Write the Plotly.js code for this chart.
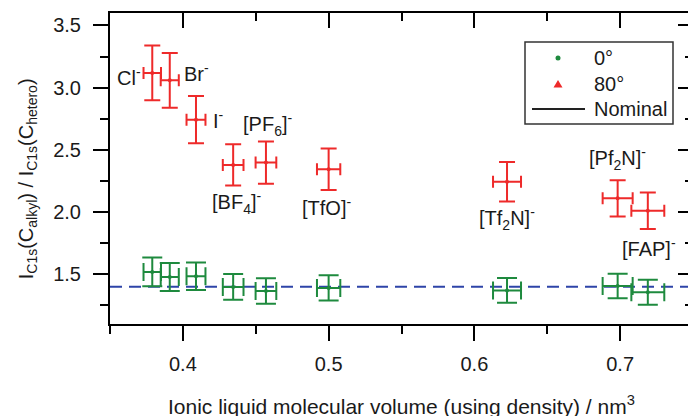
<!DOCTYPE html>
<html>
<head>
<meta charset="utf-8">
<script src="https://cdn.plot.ly/plotly-3.0.1.min.js"></script>
<style>
html, body { margin: 0; padding: 0; overflow: hidden; background: #fff; }
#chart { width: 700px; height: 416px; }
</style>
</head>
<body>
<div id="chart"></div>
<script>
// ---- data ----
const anions = ["Cl<sup>-</sup>", "Br<sup>-</sup>", "I<sup>-</sup>", "[BF<sub>4</sub>]<sup>-</sup>", "[PF<sub>6</sub>]<sup>-</sup>",
                "[TfO]<sup>-</sup>", "[Tf<sub>2</sub>N]<sup>-</sup>", "[Pf<sub>2</sub>N]<sup>-</sup>", "[FAP]<sup>-</sup>"];
const volume = [0.379, 0.391, 0.409, 0.4345, 0.457, 0.500, 0.6224, 0.6983, 0.719];
const volumeErr = [0.0060, 0.0062, 0.0065, 0.0071, 0.0071, 0.0080, 0.0096, 0.0103, 0.0113];
const ratio80 = [3.118, 3.059, 2.742, 2.379, 2.398, 2.344, 2.244, 2.110, 2.010];
const ratio80Err = [0.22, 0.22, 0.19, 0.165, 0.17, 0.167, 0.159, 0.145, 0.147];
const ratio0 = [1.519, 1.478, 1.484, 1.398, 1.365, 1.390, 1.370, 1.405, 1.355];
const ratio0Err = [0.115, 0.113, 0.111, 0.103, 0.103, 0.102, 0.100, 0.098, 0.100];
const nominalX = [0.35, 0.75];
const nominalValue = 1.4;
const legendNames = ["0°", "80°", "Nominal"];

// ---- styles ----
const RED = "#ee2a2a", GREEN = "#1e8a3e", BLUE = "#2e44a8", TXT = "#1a1a1a";
const FONT = "Liberation Sans, Arial, sans-serif";

// label placement (pixel offsets relative to the 80° point)
const labelPlace = [
  {xanchor: "right", xshift: -9, yshift: -4},
  {xanchor: "left", xshift: 12, yshift: 8},
  {xanchor: "left", xshift: 15, yshift: 0},
  {xanchor: "center", xshift: 3, yshift: -38},
  {xanchor: "center", xshift: 2, yshift: 38},
  {xanchor: "center", xshift: -2, yshift: -37},
  {xanchor: "center", xshift: 0, yshift: -37},
  {xanchor: "center", xshift: 0, yshift: 40},
  {xanchor: "center", xshift: 1, yshift: -37}
];

const traces = [
  {
    x: nominalX, y: nominalX.map(() => nominalValue), mode: "lines",
    line: {color: BLUE, width: 2, dash: "12px,7px"}, showlegend: false, hoverinfo: "skip"
  },
  {
    x: volume, y: ratio0, mode: "markers", showlegend: false,
    marker: {color: GREEN, size: 4, symbol: "circle"},
    error_y: {type: "data", array: ratio0Err, color: GREEN, thickness: 2, width: 10},
    error_x: {type: "data", array: volumeErr, color: GREEN, thickness: 2, width: 9}
  },
  {
    x: volume, y: ratio80, mode: "markers", showlegend: false,
    marker: {color: RED, size: 4, symbol: "circle"},
    error_y: {type: "data", array: ratio80Err, color: RED, thickness: 2, width: 8},
    error_x: {type: "data", array: volumeErr, color: RED, thickness: 2, width: 6}
  },
  // same points on the mirrored (top/right) axes, invisible, so those axes get drawn
  {x: volume, y: ratio0, mode: "markers", xaxis: "x2", yaxis: "y2", showlegend: false,
   hoverinfo: "skip", marker: {size: 1, opacity: 0}}
];

// ---- manual legend (paper coordinates computed from plot pixels) ----
const PLOT = {l: 110, t: 13, w: 583, h: 311};
const px = v => (v - PLOT.l) / PLOT.w;
const py = v => (PLOT.t + PLOT.h - v) / PLOT.h;

const legendRows = [58, 84, 109];
const shapes = [
  {type: "rect", xref: "paper", yref: "paper", x0: px(525), x1: px(673), y0: py(124), y1: py(42),
   line: {color: "#333", width: 1.5}, fillcolor: "#fff", layer: "above"},
  {type: "circle", xref: "paper", yref: "paper", x0: px(555.5), x1: px(560.5), y0: py(legendRows[0] + 2.5), y1: py(legendRows[0] - 2.5),
   line: {width: 0}, fillcolor: GREEN, layer: "above"},
  {type: "path", xref: "paper", yref: "paper",
   path: `M ${px(553.5)} ${py(legendRows[1] + 3.5)} L ${px(562.5)} ${py(legendRows[1] + 3.5)} L ${px(558)} ${py(legendRows[1] - 4)} Z`,
   line: {width: 0}, fillcolor: RED, layer: "above"},
  {type: "line", xref: "paper", yref: "paper", x0: px(532), x1: px(585), y0: py(legendRows[2]), y1: py(legendRows[2]),
   line: {color: "#222", width: 2}, layer: "above"}
];

const annotations = anions.map((t, i) => ({
  x: volume[i], y: ratio80[i], xref: "x", yref: "y", text: t, showarrow: false,
  xanchor: labelPlace[i].xanchor, yanchor: "middle",
  xshift: labelPlace[i].xshift, yshift: labelPlace[i].yshift,
  font: {family: FONT, size: 20, color: TXT}
}));
legendNames.forEach((n, i) => annotations.push({
  xref: "paper", yref: "paper", x: px(592), y: py(legendRows[i]), xanchor: "left", yanchor: "middle",
  text: n, showarrow: false, font: {family: FONT, size: 20, color: TXT}
}));
annotations.push({
  xref: "paper", yref: "paper", x: 0.5, y: -0.26, xanchor: "center", yanchor: "middle",
  text: "Ionic liquid molecular volume (using density) / nm<sup>3</sup>", showarrow: false,
  font: {family: FONT, size: 21, color: TXT}
});
annotations.push({
  xref: "paper", yref: "paper", x: -0.142, y: 0.466, xanchor: "center", yanchor: "middle",
  textangle: -90,
  text: "I<sub>C1s</sub>(C<sub>alkyl</sub>) / I<sub>C1s</sub>(C<sub>hetero</sub>)", showarrow: false,
  font: {family: FONT, size: 20, color: TXT}
});

const layout = {
  width: 700, height: 416,
  margin: {l: PLOT.l, r: 700 - PLOT.l - PLOT.w, t: PLOT.t, b: 416 - PLOT.t - PLOT.h},
  paper_bgcolor: "#fff", plot_bgcolor: "#fff",
  font: {family: FONT, color: TXT},
  showlegend: false,
  xaxis: {
    range: [0.35, 0.75], dtick: 0.1, tick0: 0, tickformat: ".1f", showgrid: false, zeroline: false,
    showline: true, linewidth: 2, linecolor: "#000", mirror: true,
    ticks: "outside", ticklen: 15, tickwidth: 2, tickcolor: "#000", ticklabelstandoff: 6,
    tickfont: {family: FONT, size: 20, color: TXT},
    minor: {dtick: 0.05, tick0: 0, ticks: "outside", ticklen: 8, tickwidth: 2, tickcolor: "#000"}
  },
  yaxis: {
    range: [1.1, 3.6], dtick: 0.5, tick0: 0, tickformat: ".1f", showgrid: false, zeroline: false,
    showline: true, linewidth: 2, linecolor: "#000", mirror: true,
    ticks: "outside", ticklen: 15, tickwidth: 2, tickcolor: "#000", ticklabelstandoff: 8,
    tickfont: {family: FONT, size: 20, color: TXT},
    minor: {dtick: 0.25, tick0: 0, ticks: "outside", ticklen: 8, tickwidth: 2, tickcolor: "#000"}
  },
  xaxis2: {
    overlaying: "x", side: "top", anchor: "y2", range: [0.35, 0.75], dtick: 0.1, tick0: 0,
    showgrid: false, zeroline: false, showline: true, linewidth: 2, linecolor: "#000",
    ticks: "inside", ticklen: 15, tickwidth: 2, tickcolor: "#000", showticklabels: false,
    minor: {dtick: 0.05, tick0: 0, ticks: "inside", ticklen: 8, tickwidth: 2, tickcolor: "#000"}
  },
  yaxis2: {
    overlaying: "y", side: "right", anchor: "x2", range: [1.1, 3.6], dtick: 0.5, tick0: 0,
    showgrid: false, zeroline: false, showline: true, linewidth: 2, linecolor: "#000",
    ticks: "inside", ticklen: 15, tickwidth: 2, tickcolor: "#000", showticklabels: false,
    minor: {dtick: 0.25, tick0: 0, ticks: "inside", ticklen: 8, tickwidth: 2, tickcolor: "#000"}
  },
  shapes: shapes,
  annotations: annotations
};

Plotly.newPlot("chart", traces, layout, {staticPlot: true, displayModeBar: false});
</script>
</body>
</html>
